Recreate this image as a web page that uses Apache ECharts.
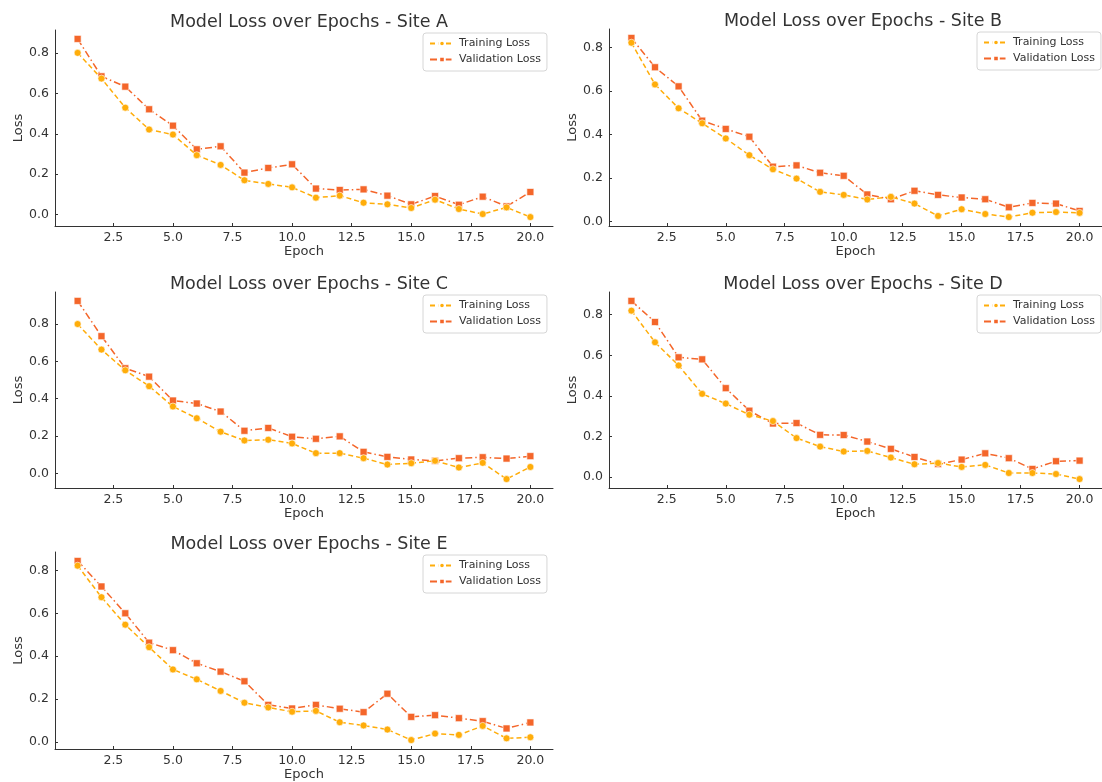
<!DOCTYPE html>
<html>
<head>
<meta charset="utf-8">
<script src="https://cdn.jsdelivr.net/npm/echarts@6/dist/echarts.min.js"></script>
<style>
  html, body { margin: 0; padding: 0; background: #fff; }
  #main { width: 1102px; height: 782px; }
</style>
</head>
<body>
<div id="main"></div>
<script>
// data
var epochs = [1, 2, 3, 4, 5, 6, 7, 8, 9, 10, 11, 12, 13, 14, 15, 16, 17, 18, 19, 20];
var sites = ['A', 'B', 'C', 'D', 'E'];
var xTicks = [2.5, 5, 7.5, 10, 12.5, 15, 17.5, 20];
var yTicks = [0, 0.2, 0.4, 0.6, 0.8];

var trainA = [0.800, 0.673, 0.529, 0.421, 0.396, 0.294, 0.246, 0.170, 0.152, 0.135, 0.084, 0.094, 0.059, 0.051, 0.033, 0.074, 0.028, 0.003, 0.036, -0.012];
var valA   = [0.869, 0.684, 0.633, 0.521, 0.440, 0.323, 0.338, 0.208, 0.231, 0.249, 0.129, 0.122, 0.125, 0.094, 0.051, 0.092, 0.049, 0.089, 0.041, 0.112];
var trainB = [0.823, 0.631, 0.521, 0.452, 0.382, 0.305, 0.240, 0.197, 0.136, 0.122, 0.101, 0.113, 0.082, 0.025, 0.056, 0.034, 0.020, 0.040, 0.043, 0.039];
var valB   = [0.845, 0.710, 0.622, 0.464, 0.426, 0.390, 0.252, 0.258, 0.224, 0.210, 0.124, 0.102, 0.141, 0.122, 0.110, 0.102, 0.065, 0.085, 0.082, 0.048];
var trainC = [0.800, 0.663, 0.552, 0.467, 0.358, 0.295, 0.223, 0.176, 0.180, 0.160, 0.108, 0.108, 0.081, 0.047, 0.054, 0.067, 0.031, 0.056, -0.031, 0.034];
var valC   = [0.924, 0.735, 0.563, 0.518, 0.390, 0.374, 0.331, 0.228, 0.243, 0.196, 0.185, 0.198, 0.115, 0.088, 0.074, 0.067, 0.081, 0.086, 0.079, 0.092];
var trainD = [0.820, 0.664, 0.550, 0.410, 0.362, 0.307, 0.276, 0.192, 0.150, 0.126, 0.129, 0.096, 0.063, 0.069, 0.050, 0.060, 0.020, 0.020, 0.015, -0.010];
var valD   = [0.868, 0.764, 0.590, 0.580, 0.438, 0.327, 0.264, 0.266, 0.208, 0.207, 0.175, 0.139, 0.099, 0.064, 0.086, 0.117, 0.093, 0.040, 0.078, 0.081];
var trainE = [0.822, 0.675, 0.547, 0.442, 0.338, 0.292, 0.238, 0.183, 0.161, 0.141, 0.145, 0.092, 0.077, 0.058, 0.009, 0.039, 0.033, 0.075, 0.017, 0.022];
var valE   = [0.844, 0.725, 0.600, 0.463, 0.428, 0.367, 0.328, 0.283, 0.173, 0.156, 0.173, 0.155, 0.139, 0.225, 0.117, 0.125, 0.111, 0.097, 0.063, 0.091];

var trainAll = [trainA, trainB, trainC, trainD, trainE];
var valAll = [valA, valB, valC, valD, valE];

var chart = echarts.init(document.getElementById('main'));

var FONT = 'DejaVu Sans';
var TXT = '#333';
var trainColor = '#FFAD0A';
var valColor = '#F4662A';

// panel boxes (matplotlib subplot areas)
var boxes = [
  {left: 55,  top: 30,  width: 498, height: 196},
  {left: 609, top: 29,  width: 498, height: 197},
  {left: 55,  top: 292, width: 498, height: 196},
  {left: 609, top: 292, width: 498, height: 196},
  {left: 55,  top: 552, width: 498, height: 198}
];

function pair(arr) {
  return arr.map(function (v, i) { return [epochs[i], v]; });
}

var grids = [], xAxes = [], yAxes = [], series = [], titles = [], legends = [];

sites.forEach(function (s, i) {
  var b = boxes[i];
  var all = trainAll[i].concat(valAll[i]);
  var lo = Math.min.apply(null, all), hi = Math.max.apply(null, all);
  var pad = (hi - lo) * 0.05;

  grids.push({left: b.left, top: b.top, width: b.width, height: b.height, containLabel: false});

  titles.push({
    text: 'Model Loss over Epochs - Site ' + s,
    left: b.left + b.width / 2, top: b.top - 22, textAlign: 'center',
    textStyle: {fontFamily: FONT, fontSize: 17.5, fontWeight: 'normal', color: TXT}
  });

  xAxes.push({
    type: 'value', gridIndex: i, min: 0.05, max: 20.95,
    name: 'Epoch', nameLocation: 'middle', nameGap: 19,
    nameTextStyle: {fontFamily: FONT, fontSize: 13, color: TXT},
    axisLine: {onZero: false, lineStyle: {color: '#333', width: 1}},
    axisTick: {inside: true, length: 3, customValues: xTicks, lineStyle: {color: '#333'}},
    axisLabel: {customValues: xTicks, fontFamily: FONT, fontSize: 12.5, color: TXT, margin: 5,
      formatter: function (v) { return v.toFixed(1); }},
    splitLine: {show: false}
  });

  yAxes.push({
    type: 'value', gridIndex: i, min: lo - pad, max: hi + pad,
    name: 'Loss', nameLocation: 'middle', nameGap: 30,
    nameTextStyle: {fontFamily: FONT, fontSize: 13, color: TXT},
    axisLine: {show: true, onZero: false, lineStyle: {color: '#333', width: 1}},
    axisTick: {show: true, inside: true, length: 3, customValues: yTicks, lineStyle: {color: '#333'}},
    axisLabel: {customValues: yTicks, fontFamily: FONT, fontSize: 12.5, color: TXT, margin: 6,
      formatter: function (v) { return v.toFixed(1); }},
    splitLine: {show: false}
  });

  series.push({
    name: 'Training Loss', type: 'line', xAxisIndex: i, yAxisIndex: i,
    data: pair(trainAll[i]),
    symbol: 'circle', symbolSize: 7,
    lineStyle: {color: trainColor, width: 1.5, type: [5, 3]},
    itemStyle: {color: trainColor, borderColor: '#fff', borderWidth: 0.6},
    animation: false, z: 3
  });
  series.push({
    name: 'Validation Loss', type: 'line', xAxisIndex: i, yAxisIndex: i,
    data: pair(valAll[i]),
    symbol: 'rect', symbolSize: 7,
    lineStyle: {color: valColor, width: 1.5, type: [7, 3, 1.5, 3]},
    itemStyle: {color: valColor, borderColor: '#fff', borderWidth: 0.6},
    animation: false, z: 2
  });

  legends.push({
    left: b.left + 368, top: b.top + 3,
    orient: 'vertical',
    data: ['Training Loss', 'Validation Loss'],
    itemWidth: 24, itemHeight: 7, itemGap: 5,
    padding: [5, 6, 6, 6],
    borderColor: '#d6d6d6', borderWidth: 1, borderRadius: 3,
    backgroundColor: '#fff',
    textStyle: {fontFamily: FONT, fontSize: 11, color: TXT}
  });
});

chart.setOption({
  backgroundColor: '#fff',
  animation: false,
  title: titles,
  legend: legends,
  grid: grids,
  xAxis: xAxes,
  yAxis: yAxes,
  series: series
});
</script>
</body>
</html>
